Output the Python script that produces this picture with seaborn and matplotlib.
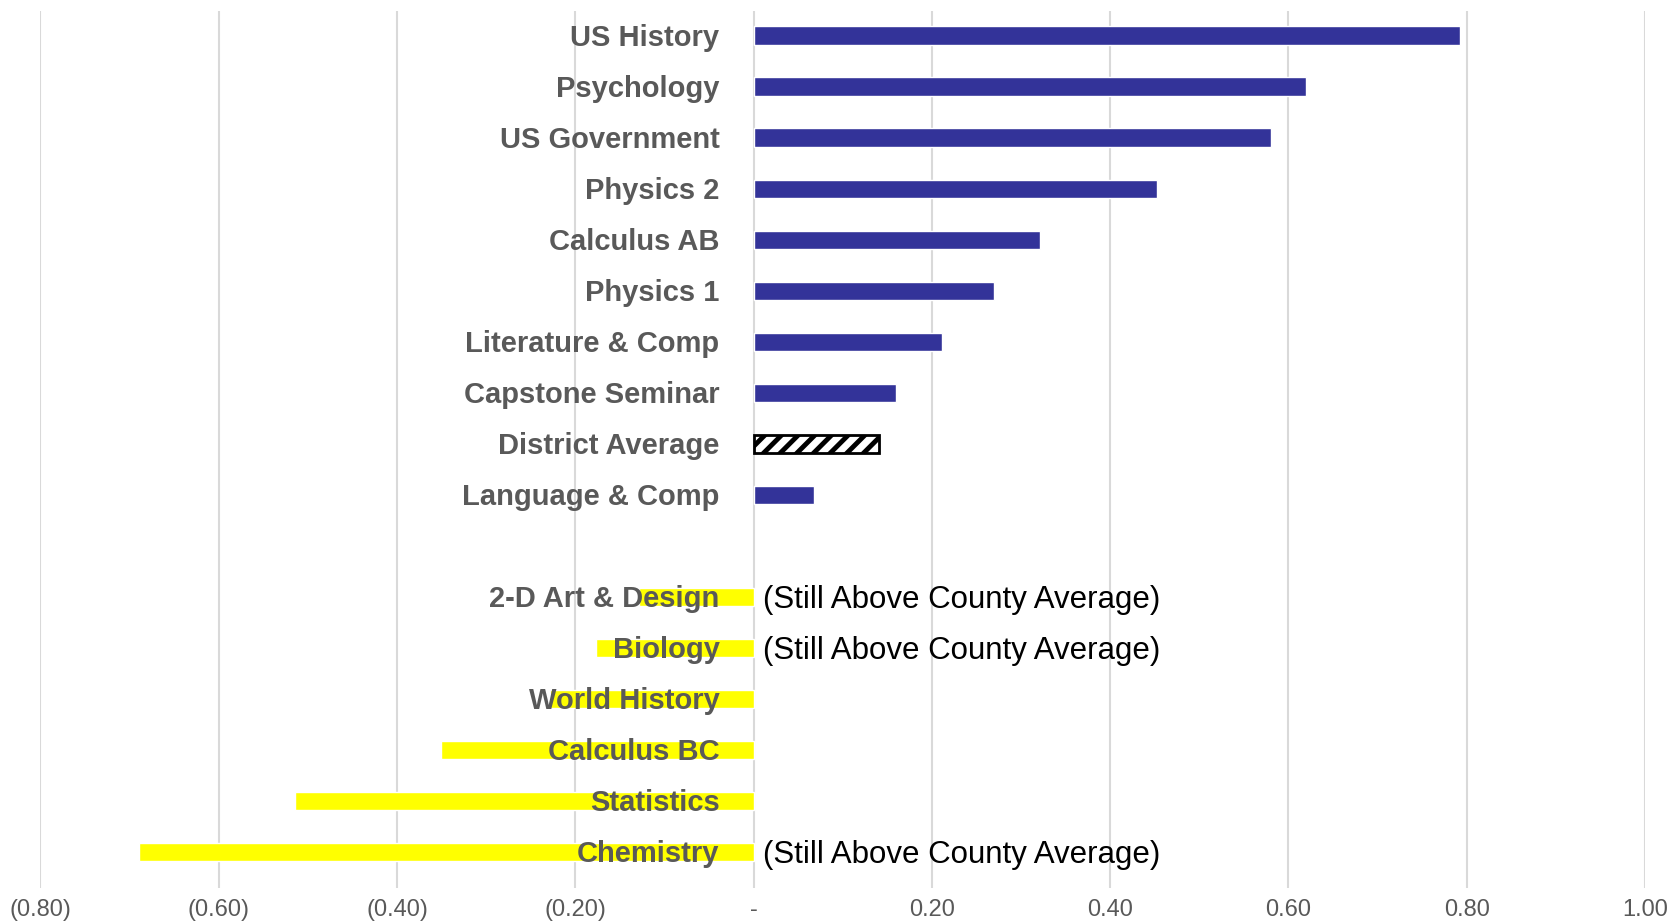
import matplotlib
matplotlib.use("Agg")
import matplotlib.pyplot as plt
import pandas as pd
import seaborn as sns

# data
courses = ["US History", "Psychology", "US Government", "Physics 2", "Calculus AB",
           "Physics 1", "Literature & Comp", "Capstone Seminar", "District Average",
           "Language & Comp", "2-D Art & Design", "Biology", "World History",
           "Calculus BC", "Statistics", "Chemistry"]
values = [0.793, 0.620, 0.580, 0.453, 0.321, 0.270, 0.211, 0.160, 0.141, 0.068,
          -0.129, -0.177, -0.228, -0.351, -0.515, -0.690]
groups = ["up"] * 8 + ["avg"] + ["up"] + ["down"] * 6
still_above = ["2-D Art & Design", "Biology", "Chemistry"]
note_text = "(Still Above County Average)"

# blank slot between the positive and negative groups
order = courses[:10] + [" "] + courses[10:]
tick_vals = [-0.8, -0.6, -0.4, -0.2, 0.0, 0.2, 0.4, 0.6, 0.8, 1.0]
tick_labels = ["(0.80)", "(0.60)", "(0.40)", "(0.20)", "-", "0.20", "0.40", "0.60", "0.80", "1.00"]

df = pd.DataFrame({"course": courses, "value": values, "group": groups})

sns.set_style("white")
plt.rcParams["font.family"] = ["Liberation Sans", "DejaVu Sans"]
plt.rcParams["hatch.linewidth"] = 3.5

fig = plt.figure(figsize=(16.79, 9.23), dpi=100)
ax = fig.add_axes([0.0241, 0.038, 0.9556, 0.950])

hue_order = ["up", "avg", "down"]
palette = {"up": "#333399", "avg": "white", "down": "#FFFF00"}
sns.barplot(data=df, x="value", y="course", hue="group", order=order,
            hue_order=hue_order, palette=palette, dodge=False, width=0.36,
            saturation=1, orient="h", legend=False, ax=ax, zorder=2)

# district average bar: white with black diagonal hatch
for bar in ax.containers[hue_order.index("avg")]:
    bar.set_hatch("//")
    bar.set_edgecolor("black")
    bar.set_linewidth(2)

ax.set_xlim(-0.8, 1.0)
ax.set_ylim(16.70, -0.48)
ax.set_xticks(tick_vals)
ax.set_xticklabels(tick_labels, fontsize=17, color="#595959")
ax.tick_params(axis="x", length=0, pad=8)
ax.set_yticks([])
ax.set_xlabel("")
ax.set_ylabel("")
ax.grid(axis="x", color="#D9D9D9", linewidth=1.5, zorder=0)
ax.set_axisbelow(True)
for s in ax.spines.values():
    s.set_visible(False)

# category labels sit just left of zero, drawn over the bars
for i, name in enumerate(order):
    if not name.strip():
        continue
    ax.annotate(name, xy=(0, i), xytext=(-24.5, -1.5), textcoords="offset points",
                ha="right", va="center", fontsize=21, fontweight="bold",
                color="#595959", zorder=5)
    if name in still_above:
        ax.annotate(note_text, xy=(0, i), xytext=(7, -2), textcoords="offset points",
                    ha="left", va="center", fontsize=22.5, color="black", zorder=5)

fig.savefig("out.png", dpi=100)
